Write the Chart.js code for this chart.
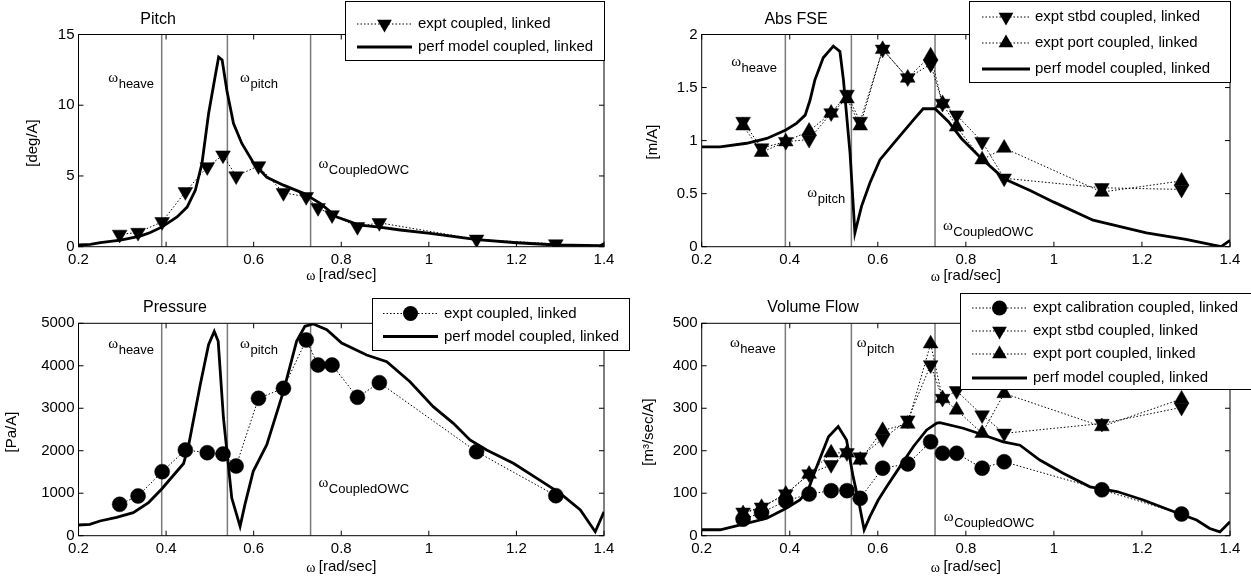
<!DOCTYPE html>
<html lang="en">
<head>
  <meta charset="UTF-8" />
  <title>Coupled OWC - frequency response</title>
  <script src="https://cdn.jsdelivr.net/npm/chart.js"></script>
  <style>
    body { margin: 0; background: #fff; }
    canvas.panel { position: absolute; left: 0; top: 0; }
  </style>
</head>
<body>
  <canvas id="cPitch" class="panel" width="1251" height="584"></canvas>
  <canvas id="cFse" class="panel" width="1251" height="584"></canvas>
  <canvas id="cPress" class="panel" width="1251" height="584"></canvas>
  <canvas id="cFlow" class="panel" width="1251" height="584"></canvas>

  <script>
    // ---- data ----
    const xTicks = [0.2, 0.4, 0.6, 0.8, 1, 1.2, 1.4];
    const omegaMarks = [0.39, 0.54, 0.73];   // heave, pitch, coupled OWC

    // measured frequencies (same for every experiment series)
    const exptW = [0.294, 0.336, 0.391, 0.444, 0.494, 0.530, 0.560, 0.611, 0.668, 0.720, 0.747, 0.779, 0.837, 0.887, 1.109, 1.290];

    // Pitch
    const pitchTicks = [0, 5, 10, 15];
    const pitchExpt = [0.87, 1.0, 1.76, 3.88, 5.64, 6.47, 4.99, 5.71, 3.81, 3.53, 2.75, 2.24, 1.41, 1.69, 0.52, 0.19];
    const pitchModelW = [0.20, 0.227, 0.25, 0.296, 0.341, 0.364, 0.391, 0.425, 0.448, 0.467, 0.482, 0.497, 0.513, 0.520, 0.528, 0.539, 0.554, 0.573, 0.600, 0.630, 0.668, 0.714, 0.752, 0.790, 0.821, 0.838, 0.887, 0.935, 1.003, 1.110, 1.201, 1.292, 1.391, 1.400];
    const pitchModel = [0.12, 0.17, 0.28, 0.47, 0.75, 1.0, 1.4, 2.1, 2.8, 4.0, 5.9, 9.4, 12.2, 13.4, 13.2, 11.0, 8.7, 7.3, 5.9, 4.9, 4.35, 3.77, 3.06, 2.1, 1.76, 1.55, 1.38, 1.18, 0.94, 0.5, 0.28, 0.12, 0.07, 0.2];

    // Abs FSE
    const fseTicks = [0, 0.5, 1, 1.5, 2];
    const fseStbd = [1.18, 0.93, 0.99, 1.01, 1.26, 1.435, 1.18, 1.86, 1.59, 1.72, 1.35, 1.24, 0.99, 0.645, 0.555, 0.54];
    const fsePort = [1.14, 0.89, 0.99, 1.09, 1.26, 1.395, 1.14, 1.86, 1.59, 1.80, 1.35, 1.13, 0.82, 0.93, 0.515, 0.62];
    const fseModelW = [0.20, 0.242, 0.302, 0.348, 0.391, 0.416, 0.435, 0.446, 0.457, 0.476, 0.499, 0.514, 0.522, 0.537, 0.548, 0.563, 0.582, 0.605, 0.643, 0.681, 0.703, 0.730, 0.760, 0.790, 0.836, 0.887, 0.946, 1.000, 1.089, 1.210, 1.300, 1.380, 1.400];
    const fseModel = [0.94, 0.94, 0.975, 1.02, 1.10, 1.165, 1.24, 1.38, 1.57, 1.78, 1.89, 1.84, 1.57, 0.88, 0.13, 0.38, 0.60, 0.82, 1.01, 1.195, 1.30, 1.30, 1.18, 1.02, 0.83, 0.64, 0.53, 0.42, 0.25, 0.13, 0.07, 0.0, 0.06];

    // Pressure
    const pressTicks = [0, 1000, 2000, 3000, 4000, 5000];
    const pressExpt = [739, 935, 1507, 2018, 1954, 1923, 1641, 3234, 3470, 4607, 4018, 4018, 3258, 3602, 1977, 942];
    const pressModelW = [0.20, 0.226, 0.249, 0.287, 0.325, 0.360, 0.390, 0.440, 0.451, 0.478, 0.497, 0.510, 0.519, 0.531, 0.550, 0.569, 0.580, 0.599, 0.630, 0.668, 0.698, 0.717, 0.736, 0.767, 0.801, 0.858, 0.904, 0.957, 1.010, 1.056, 1.094, 1.132, 1.193, 1.247, 1.300, 1.346, 1.380, 1.400];
    const pressModel = [252, 268, 346, 433, 542, 780, 1100, 1700, 2104, 3555, 4496, 4811, 4576, 2771, 887, 221, 730, 1516, 2142, 3399, 4576, 4929, 4983, 4849, 4536, 4254, 4096, 3625, 3037, 2646, 2253, 2017, 1704, 1351, 998, 605, 94, 560];

    // Volume flow
    const flowTicks = [0, 100, 200, 300, 400, 500];
    const flowCal = [39, 54, 82, 98, 106, 106, 88, 159, 169, 221, 194, 194, 159, 174, 108, 51];
    const flowStbd = [55, 67, 98, 145, 167, 195, 185, 228, 272, 402, 323, 341, 284, 241, 264, 302];
    const flowPort = [52, 67, 98, 145, 195, 195, 178, 248, 263, 452, 323, 296, 241, 335, 257, 322];
    const flowModelW = [0.20, 0.242, 0.302, 0.348, 0.391, 0.423, 0.442, 0.461, 0.488, 0.510, 0.529, 0.544, 0.559, 0.569, 0.582, 0.601, 0.620, 0.650, 0.681, 0.711, 0.734, 0.741, 0.794, 0.840, 0.885, 0.923, 0.968, 1.021, 1.082, 1.143, 1.203, 1.264, 1.324, 1.354, 1.377, 1.400];
    const flowModel = [14, 14, 29, 41, 64, 84, 108, 162, 233, 257, 225, 139, 68, 14, 45, 84, 115, 162, 210, 249, 265, 266, 253, 237, 221, 213, 178, 147, 115, 104, 84, 60, 37, 17, 9, 33];

    // ---- helpers ----
    const SANS = '"Liberation Sans", Arial, Helvetica, sans-serif';
    const SERIF = '"Liberation Serif", "Times New Roman", serif';
    const pts = (xs, ys) => xs.map((x, i) => ({ x: x, y: ys[i] }));

    const expt = (label, ys, style, rot) => ({
      label: label, data: pts(exptW, ys), showLine: true, tension: 0,
      borderColor: '#000', borderWidth: 1, borderDash: [1.5, 2],
      pointStyle: style, pointRotation: rot || 0,
      pointRadius: style === 'circle' ? 7.5 : 8.5,
      pointBackgroundColor: '#000', pointBorderColor: '#000', pointBorderWidth: 0.5,
      order: 1
    });
    const model = (label, xs, ys) => ({
      label: label, data: pts(xs, ys), showLine: true, tension: 0,
      borderColor: '#000', borderWidth: 2.8, pointRadius: 0, order: 0
    });

    function marker(ctx, style, rot, r, x, y) {
      ctx.beginPath();
      if (style === 'circle') {
        ctx.arc(x, y, r, 0, 2 * Math.PI);
      } else {
        let a = rot * Math.PI / 180;
        for (let k = 0; k < 3; k++) {
          const px = x + Math.sin(a) * r, py = y - Math.cos(a) * r;
          if (k) ctx.lineTo(px, py); else ctx.moveTo(px, py);
          a += 2 * Math.PI / 3;
        }
        ctx.closePath();
      }
      ctx.fill();
    }

    // box, inward ticks, omega lines, texts and legend (matlab look)
    const frame = {
      id: 'frame',
      beforeDatasetsDraw(chart) {
        const { ctx, chartArea: a, scales: { x } } = chart;
        ctx.save();
        ctx.strokeStyle = '#7a7a7a';
        ctx.lineWidth = 1.5;
        omegaMarks.forEach(w => {
          const px = x.getPixelForValue(w);
          ctx.beginPath(); ctx.moveTo(px, a.top); ctx.lineTo(px, a.bottom); ctx.stroke();
        });
        ctx.restore();
      },
      afterDraw(chart, args, o) {
        const { ctx, chartArea: a, scales: { x, y } } = chart;
        ctx.save();
        ctx.strokeStyle = '#000';
        ctx.lineWidth = 1;
        ctx.strokeRect(a.left, a.top, a.right - a.left, a.bottom - a.top);
        ctx.beginPath();
        x.ticks.forEach(t => {
          const px = x.getPixelForValue(t.value);
          ctx.moveTo(px, a.bottom); ctx.lineTo(px, a.bottom - 5);
          ctx.moveTo(px, a.top); ctx.lineTo(px, a.top + 5);
        });
        y.ticks.forEach(t => {
          const py = y.getPixelForValue(t.value);
          ctx.moveTo(a.left, py); ctx.lineTo(a.left + 5, py);
          ctx.moveTo(a.right, py); ctx.lineTo(a.right - 5, py);
        });
        ctx.stroke();

        ctx.fillStyle = '#000';
        ctx.textBaseline = 'middle';
        ctx.textAlign = 'center';
        // title
        ctx.font = '16px ' + SANS;
        ctx.fillText(o.title.text, o.title.x, o.title.y);
        // y title
        ctx.save();
        ctx.translate(o.yTitle.x, o.yTitle.y);
        ctx.rotate(-Math.PI / 2);
        ctx.font = '15px ' + SANS;
        ctx.fillText(o.yTitle.text, 0, 0);
        ctx.restore();
        // x title: omega [rad/sec]
        const xc = (a.left + a.right) / 2;
        ctx.font = '14px ' + SERIF;
        const wW = ctx.measureText('\u03c9 ').width;
        ctx.font = '15px ' + SANS;
        const rW = ctx.measureText('[rad/sec]').width;
        ctx.textAlign = 'left';
        ctx.font = '14px ' + SERIF;
        ctx.fillText('\u03c9 ', xc - (wW + rW) / 2, o.xTitleY + 1);
        ctx.font = '15px ' + SANS;
        ctx.fillText('[rad/sec]', xc - (wW + rW) / 2 + wW, o.xTitleY);

        // omega annotations
        ctx.textBaseline = 'alphabetic';
        o.ann.forEach(n => {
          const px = x.getPixelForValue(n.w), py = y.getPixelForValue(n.v);
          ctx.font = '15px ' + SERIF;
          ctx.fillText('\u03c9', px, py);
          const ww = ctx.measureText('\u03c9').width;
          ctx.font = '13px ' + SANS;
          ctx.fillText(n.sub, px + ww + 0.5, py + 6);
        });

        // legend
        const L = o.legend;
        ctx.fillStyle = '#fff';
        ctx.fillRect(L.box[0], L.box[1], L.box[2] - L.box[0], L.box[3] - L.box[1]);
        ctx.strokeStyle = '#000';
        ctx.lineWidth = 1;
        ctx.strokeRect(L.box[0] + 0.5, L.box[1] + 0.5, L.box[2] - L.box[0] - 1, L.box[3] - L.box[1] - 1);
        ctx.textBaseline = 'middle';
        ctx.textAlign = 'left';
        ctx.font = '15px ' + SANS;
        chart.data.datasets.forEach((ds, i) => {
          const ry = L.rows[i];
          ctx.strokeStyle = '#000';
          ctx.lineWidth = ds.borderWidth;
          ctx.setLineDash(ds.borderDash || []);
          ctx.beginPath(); ctx.moveTo(L.sample[0], ry); ctx.lineTo(L.sample[1], ry); ctx.stroke();
          ctx.setLineDash([]);
          ctx.fillStyle = '#000';
          if (ds.pointRadius > 0) {
            marker(ctx, ds.pointStyle, ds.pointRotation, ds.pointRadius, (L.sample[0] + L.sample[1]) / 2, ry);
          }
          ctx.fillText(ds.label, L.textX, ry);
        });
        ctx.restore();
      }
    };

    const tickFont = { family: SANS, size: 15 };

    function makeScales(yMax, yTicks) {
      return {
        x: {
          type: 'linear', min: 0.2, max: 1.4,
          afterBuildTicks: s => { s.ticks = xTicks.map(v => ({ value: v })); },
          afterFit: s => { s.height = 30; },
          grid: { display: false, drawTicks: false },
          border: { display: false },
          ticks: { padding: 4, color: '#000', font: tickFont, maxRotation: 0, callback: v => String(v) }
        },
        y: {
          type: 'linear', min: 0, max: yMax,
          afterBuildTicks: s => { s.ticks = yTicks.map(v => ({ value: v })); },
          afterFit: s => { s.width = 40; },
          grid: { display: false, drawTicks: false },
          border: { display: false },
          ticks: { padding: 4, color: '#000', font: tickFont, callback: v => String(v) }
        }
      };
    }

    // plot area [left, top, right, bottom] in page pixels -> layout padding
    function pad(L, T, R, B) {
      return { left: L - 40, top: T, right: 1251 - R, bottom: 584 - B - 30 };
    }

    function makeChart(id, area, yMax, yTicks, datasets, frameOpts) {
      return new Chart(document.getElementById(id).getContext('2d'), {
        type: 'scatter',
        data: { datasets: datasets },
        options: {
          responsive: false,
          animation: false,
          devicePixelRatio: 1,
          events: [],
          layout: { padding: pad.apply(null, area) },
          scales: makeScales(yMax, yTicks),
          plugins: { legend: { display: false }, tooltip: { enabled: false }, frame: frameOpts }
        },
        plugins: [frame]
      });
    }

    makeChart('cPitch', [78.5, 34.5, 604, 246.7], 15, pitchTicks, [
      expt('expt coupled, linked', pitchExpt, 'triangle', 180),
      model('perf model coupled, linked', pitchModelW, pitchModel)
    ], {
      title: { text: 'Pitch', x: 158, y: 20 },
      yTitle: { text: '[deg/A]', x: 33, y: 143 },
      xTitleY: 275,
      ann: [{ w: 0.268, v: 11.64, sub: 'heave' }, { w: 0.569, v: 11.64, sub: 'pitch' }, { w: 0.748, v: 5.53, sub: 'CoupledOWC' }],
      legend: { box: [345, 1, 605, 61], rows: [24, 47], sample: [357, 412], textX: 418 }
    });

    makeChart('cFse', [701.7, 34.5, 1230, 246.7], 2, fseTicks, [
      expt('expt stbd coupled, linked', fseStbd, 'triangle', 180),
      expt('expt port coupled, linked', fsePort, 'triangle', 0),
      model('perf model coupled, linked', fseModelW, fseModel)
    ], {
      title: { text: 'Abs FSE', x: 796, y: 20 },
      yTitle: { text: '[m/A]', x: 653, y: 142 },
      xTitleY: 276,
      ann: [{ w: 0.267, v: 1.70, sub: 'heave' }, { w: 0.44, v: 0.472, sub: 'pitch' }, { w: 0.748, v: 0.157, sub: 'CoupledOWC' }],
      legend: { box: [969, 1, 1231, 83], rows: [17, 43, 69], sample: [982, 1030], textX: 1035 }
    });

    makeChart('cPress', [78.5, 323.3, 604, 535.7], 5000, pressTicks, [
      expt('expt coupled, linked', pressExpt, 'circle'),
      model('perf model coupled, linked', pressModelW, pressModel)
    ], {
      title: { text: 'Pressure', x: 175, y: 308 },
      yTitle: { text: '[Pa/A]', x: 12, y: 432 },
      xTitleY: 567,
      ann: [{ w: 0.268, v: 4411, sub: 'heave' }, { w: 0.569, v: 4411, sub: 'pitch' }, { w: 0.748, v: 1139, sub: 'CoupledOWC' }],
      legend: { box: [372, 298, 630, 351], rows: [313.5, 336.5], sample: [383, 438], textX: 444 }
    });

    makeChart('cFlow', [701.7, 323.3, 1230, 535.7], 500, flowTicks, [
      expt('expt calibration coupled, linked', flowCal, 'circle'),
      expt('expt stbd coupled, linked', flowStbd, 'triangle', 180),
      expt('expt port coupled, linked', flowPort, 'triangle', 0),
      model('perf model coupled, linked', flowModelW, flowModel)
    ], {
      title: { text: 'Volume Flow', x: 813, y: 308 },
      yTitle: { text: '[m\u00b3/sec/A]', x: 649, y: 432 },
      xTitleY: 567,
      ann: [{ w: 0.264, v: 445, sub: 'heave' }, { w: 0.552, v: 445, sub: 'pitch' }, { w: 0.75, v: 35, sub: 'CoupledOWC' }],
      legend: { box: [960, 293, 1253, 390], rows: [308, 331, 354, 378], sample: [972, 1027], textX: 1033 }
    });
  </script>
</body>
</html>
